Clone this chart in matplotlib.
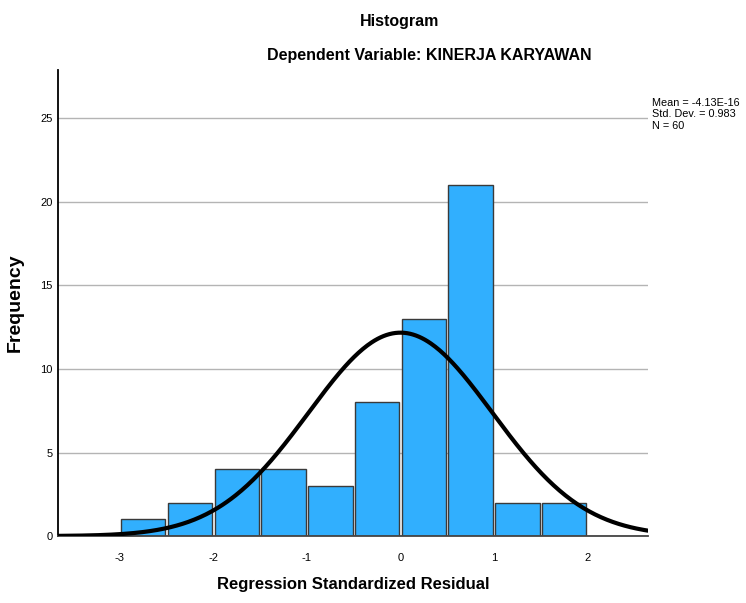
import numpy as np
import matplotlib.pyplot as plt

plt.rcParams['font.family'] = ['Liberation Sans', 'DejaVu Sans']

# Data (bin width 0.5)
bin_edges = [-3.0, -2.5, -2.0, -1.5, -1.0, -0.5, 0.0, 0.5, 1.0, 1.5, 2.0]
counts = [1, 2, 4, 4, 3, 8, 13, 21, 2, 2]
mean = -4.13e-16
std_dev = 0.983
n = 60
x_ticks = [-3, -2, -1, 0, 1, 2]
y_ticks = [0, 5, 10, 15, 20, 25]

fig = plt.figure(figsize=(7.46, 6.03), dpi=100)
ax = fig.add_axes([0.078, 0.111, 0.791, 0.773])

left = np.array(bin_edges[:-1])
width = np.diff(bin_edges)
ax.bar(left + width / 2, counts, width=width * 0.95, color='#31affe',
       edgecolor='#3a3a3a', linewidth=1.0, zorder=2)

# normal curve scaled to counts
xs = np.linspace(-3.66, 2.65, 400)
binw = 0.5
ys = n * binw * np.exp(-0.5 * ((xs - mean) / std_dev) ** 2) / (std_dev * np.sqrt(2 * np.pi))
ax.plot(xs, ys, color='black', linewidth=3, zorder=3)

ax.set_xlim(-3.66, 2.65)
ax.set_ylim(0, 27.9)
ax.set_xticks(x_ticks)
ax.set_yticks(y_ticks)
ax.set_xticklabels([str(t) for t in x_ticks], fontsize=8)
ax.set_yticklabels([str(t) for t in y_ticks], fontsize=8)
ax.tick_params(length=0, pad=12)
ax.tick_params(axis='y', pad=4)
ax.yaxis.grid(True, color='#b4b4b4', linewidth=1, zorder=0)
ax.set_axisbelow(True)
for s in ['top', 'right']:
    ax.spines[s].set_visible(False)
ax.spines['left'].set_linewidth(1.3)
ax.spines['bottom'].set_linewidth(1.3)
ax.spines['bottom'].set_color('#444444')

ax.set_xlabel('Regression Standardized Residual', fontsize=12, fontweight='bold', labelpad=10)
ax.set_ylabel('Frequency', fontsize=14, fontweight='bold', labelpad=12)

fig.text(0.536, 0.964, 'Histogram', ha='center', va='center', fontsize=11.5, fontweight='bold')
fig.text(0.575, 0.908, 'Dependent Variable: KINERJA KARYAWAN', ha='center', va='center',
         fontsize=11.5, fontweight='bold')
fig.text(0.874, 0.838, 'Mean = -4.13E-16\nStd. Dev. = 0.983\nN = 60', ha='left', va='top',
         fontsize=7.8, linespacing=1.2)

fig.savefig('out.png', dpi=100)
